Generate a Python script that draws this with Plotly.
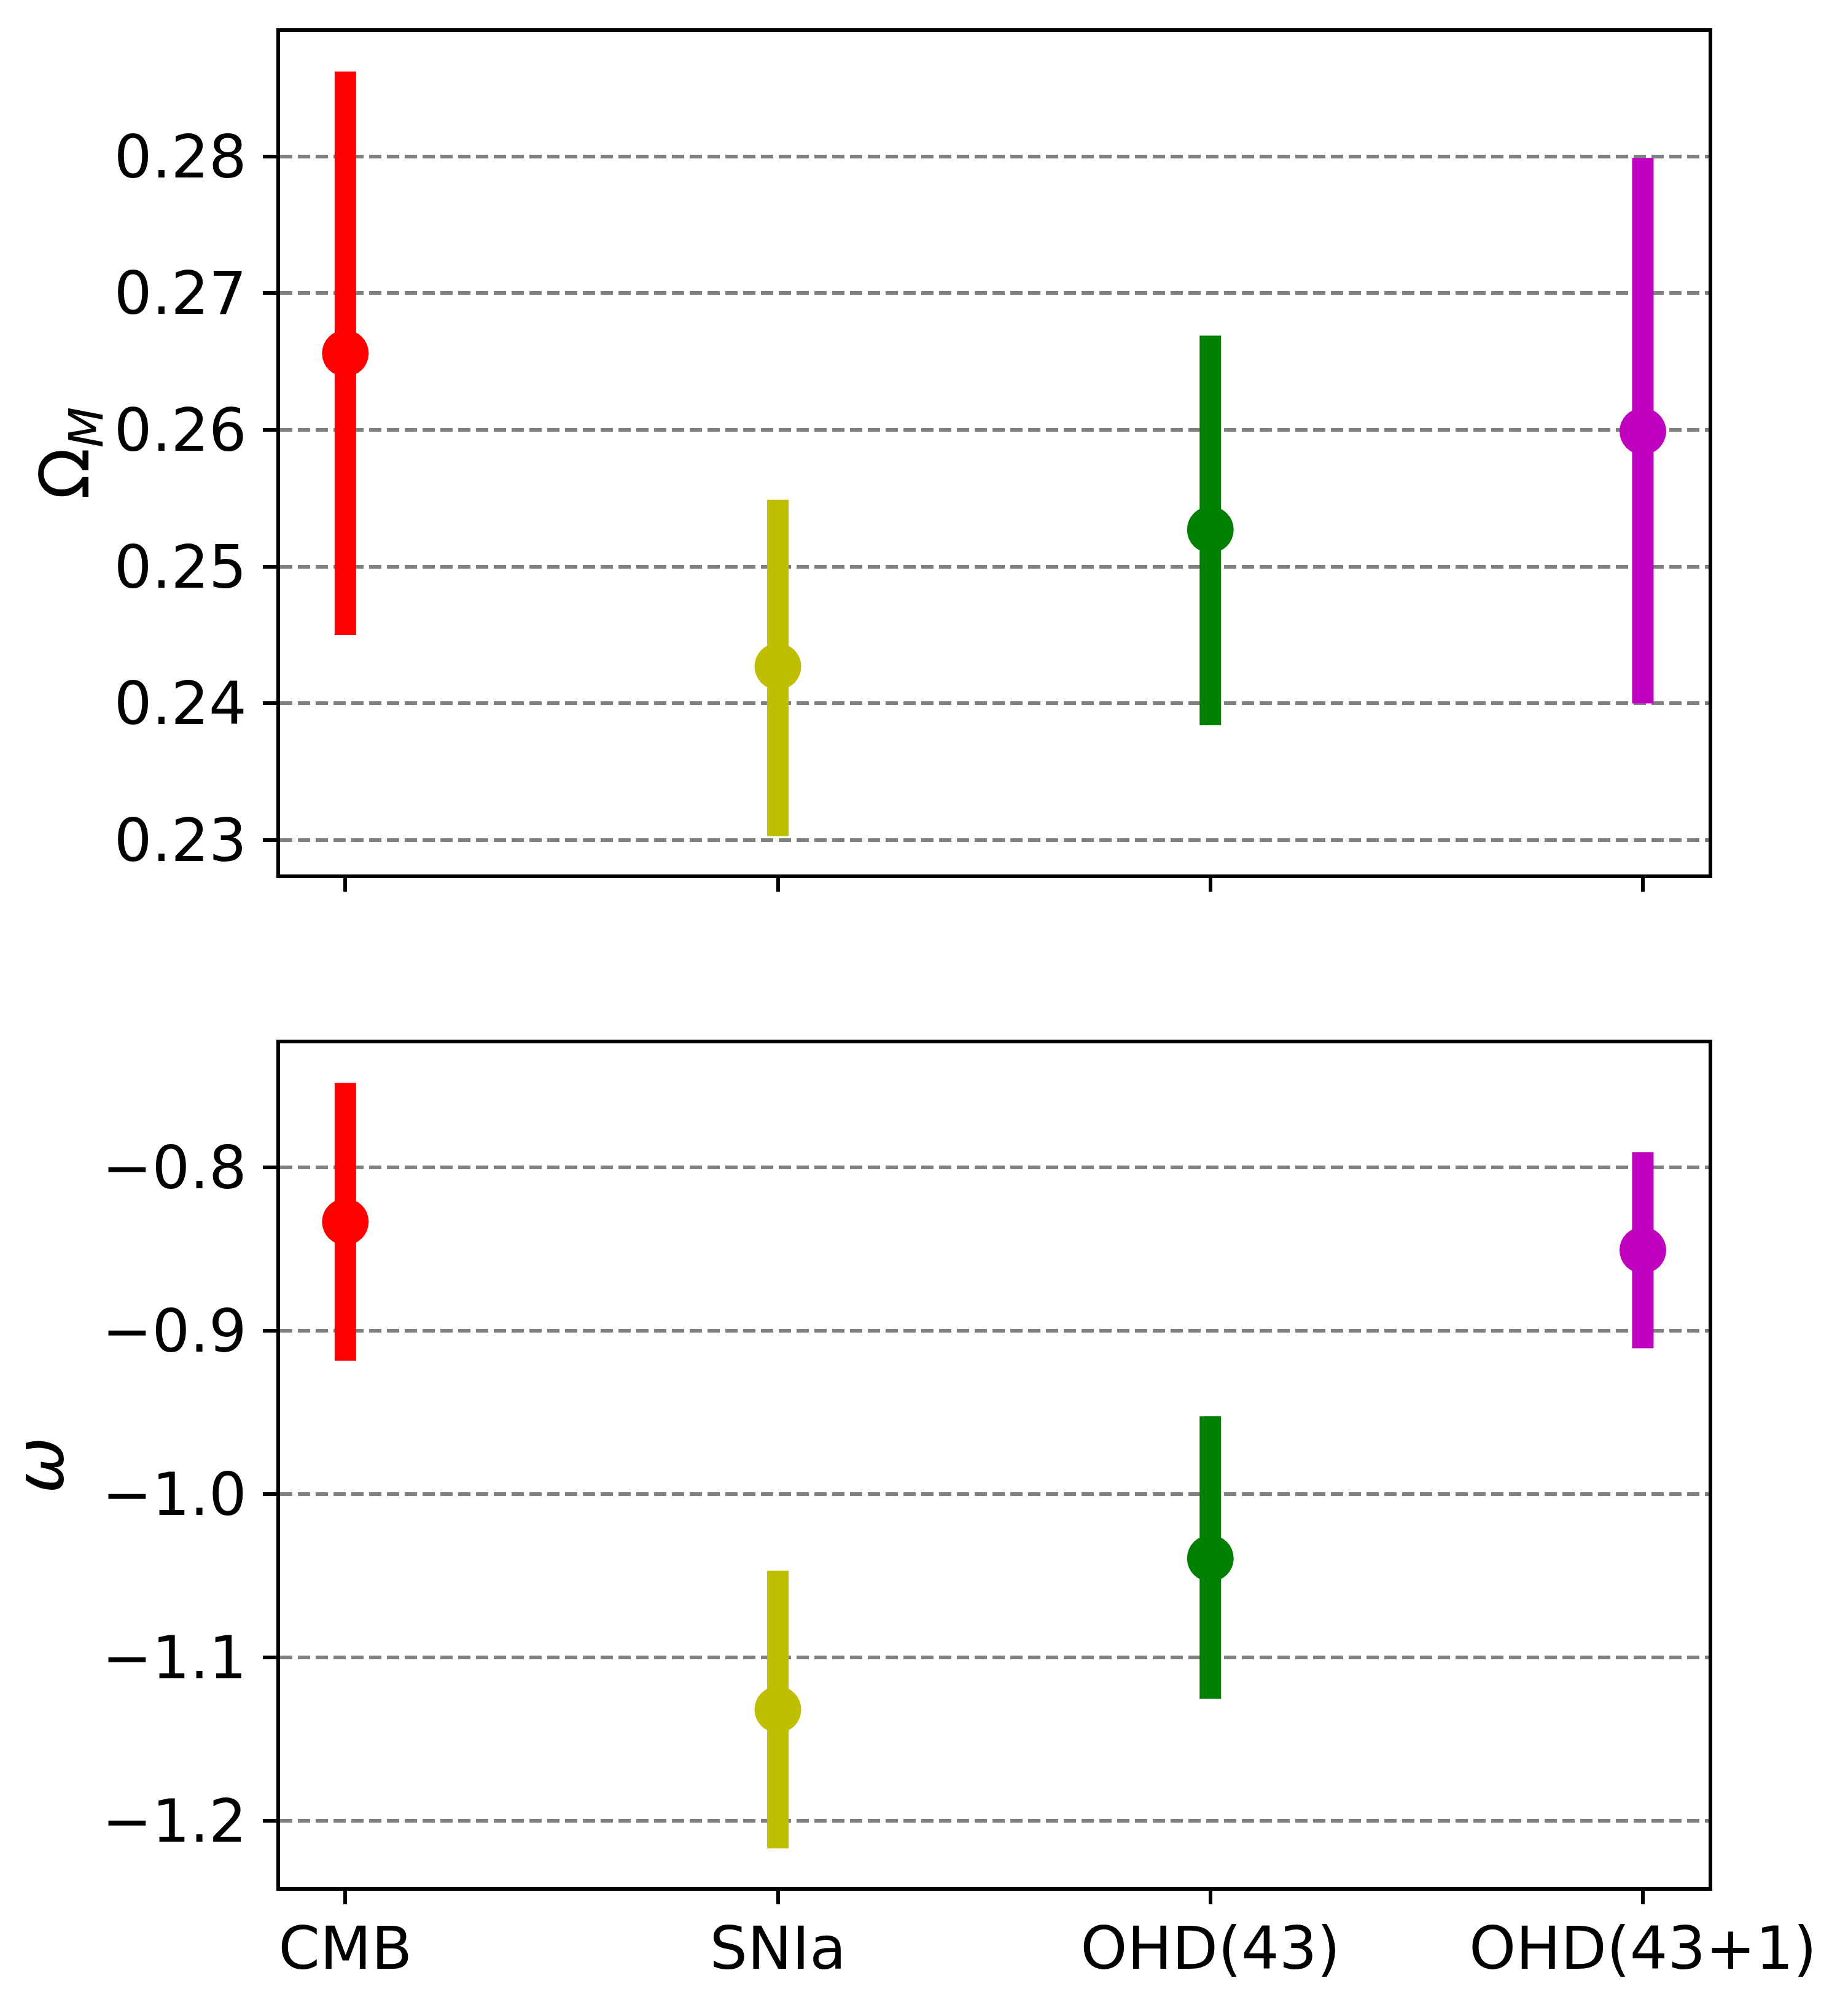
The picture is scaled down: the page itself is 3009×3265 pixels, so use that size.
import plotly.graph_objects as go

categories = ["CMB", "SNIa", "OHD(43)", "OHD(43+1)"]
colors = ["#ff0000", "#bfbf00", "#008000", "#bf00bf"]

omega_m = [0.2656, 0.2427, 0.2527, 0.2599]
omega_m_plus = [0.0206, 0.0122, 0.0142, 0.0200]
omega_m_minus = [0.0206, 0.0124, 0.0143, 0.0199]

w = [-0.8334, -1.1319, -1.0394, -0.8508]
w_plus = [0.085, 0.085, 0.087, 0.060]
w_minus = [0.085, 0.085, 0.086, 0.060]

top_ticks = [0.23, 0.24, 0.25, 0.26, 0.27, 0.28]
bottom_ticks = [-1.2, -1.1, -1.0, -0.9, -0.8]

FONT = "DejaVu Sans"
fig = go.Figure()

for i, cat in enumerate(categories):
    fig.add_trace(go.Scatter(
        x=[i], y=[omega_m[i]], mode="markers",
        marker=dict(color=colors[i], size=76, line=dict(width=0)),
        error_y=dict(type="data", symmetric=False, array=[omega_m_plus[i]],
                     arrayminus=[omega_m_minus[i]], color=colors[i],
                     thickness=35, width=0),
        xaxis="x", yaxis="y", showlegend=False, name=cat))
    fig.add_trace(go.Scatter(
        x=[i], y=[w[i]], mode="markers",
        marker=dict(color=colors[i], size=76, line=dict(width=0)),
        error_y=dict(type="data", symmetric=False, array=[w_plus[i]],
                     arrayminus=[w_minus[i]], color=colors[i],
                     thickness=35, width=0),
        xaxis="x2", yaxis="y2", showlegend=False, name=cat))

axis_common = dict(showline=True, linecolor="black", linewidth=5.5, mirror=True,
                   ticks="outside", ticklen=22, tickwidth=5.5, tickcolor="black",
                   zeroline=False,
                   tickfont=dict(family=FONT, size=97, color="black"))

xr = [-0.151, 3.152]
fig.update_layout(
    width=3009, height=3265,
    margin=dict(l=456, r=227, t=52, b=192),
    plot_bgcolor="white", paper_bgcolor="white",
    xaxis=dict(domain=[0, 1], anchor="y", range=xr, tickvals=list(range(4)),
               ticktext=categories, showticklabels=False, showgrid=False, **axis_common),
    yaxis=dict(domain=[0.5459, 1], anchor="x", range=[0.2275, 0.2891],
               tickvals=top_ticks, tickformat=".2f", showgrid=True,
               gridcolor="#808080", gridwidth=5.5, griddash="20px,9px",
               ticklabelstandoff=7,
               title=dict(text="Ω<sub><i>M</i></sub>", standoff=6,
                          font=dict(family=FONT, size=110, color="black")),
               **axis_common),
    xaxis2=dict(domain=[0, 1], anchor="y2", range=xr, tickvals=list(range(4)),
                ticktext=categories, showgrid=False, ticklabelstandoff=-11,
                **axis_common),
    yaxis2=dict(domain=[0, 0.4548], anchor="x2", range=[-1.2406, -0.7242],
                tickvals=bottom_ticks, tickformat=".1f", showgrid=True,
                gridcolor="#808080", gridwidth=5.5, griddash="20px,9px",
                ticklabelstandoff=7,
                title=dict(text="<i>ω</i>", standoff=44,
                           font=dict(family=FONT, size=110, color="black")),
                **axis_common),
)

fig.write_html("out.html")
